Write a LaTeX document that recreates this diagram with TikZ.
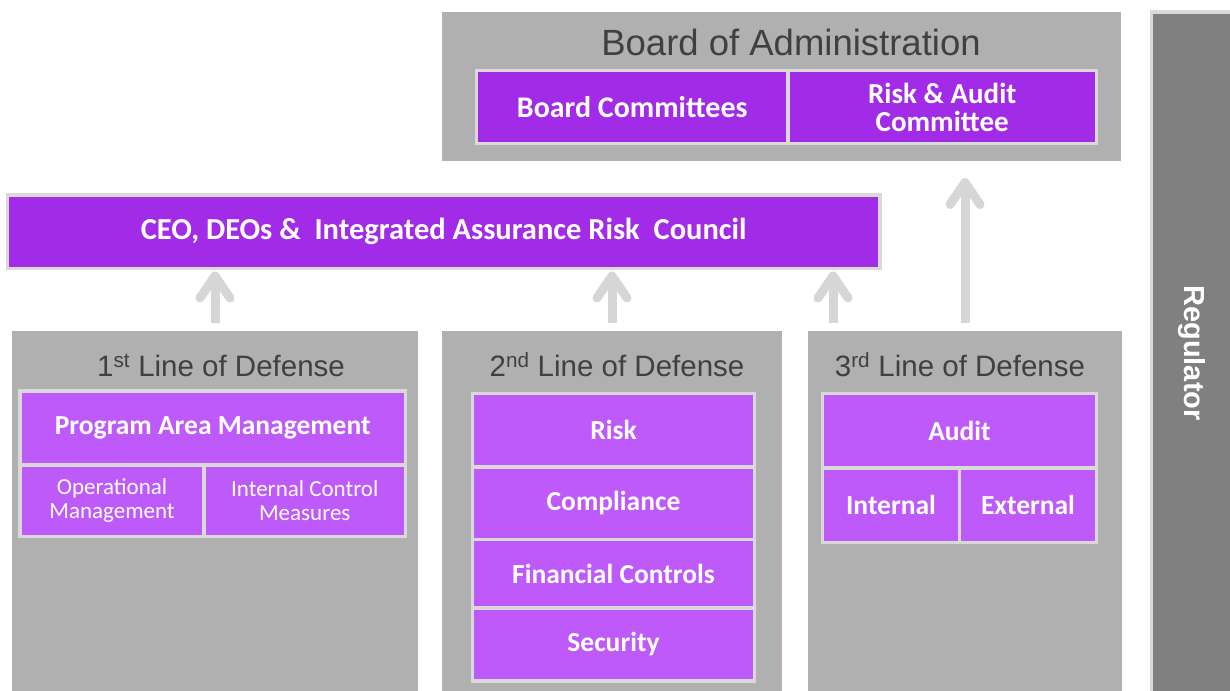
\documentclass[tikz,border=0pt]{standalone}
\usepackage{fontspec}
\setmainfont{Carlito}
\newfontfamily\headfont{Liberation Sans}
\usetikzlibrary{arrows.meta,positioning}
\definecolor{panelgray}{HTML}{B0B0B0}
\definecolor{reggray}{HTML}{808080}
\definecolor{edgegray}{HTML}{D9D9D9}
\definecolor{arrowgray}{HTML}{D6D6D6}
\definecolor{titlegray}{HTML}{404040}
\definecolor{toppurple}{HTML}{A12BE6}
\definecolor{cellpurple}{HTML}{BE59FA}
\begin{document}
\begin{tikzpicture}[x=1pt, y=-1pt,
	panel/.style={fill=panelgray, anchor=north west, inner sep=0pt, outer sep=0pt},
	cell/.style={fill=cellpurple, draw=edgegray, line width=3.5pt, anchor=north west,
		inner sep=0pt, outer sep=0pt, text=white, align=center,
		font=\bfseries\fontsize{27.5}{27.5}\selectfont},
	topcell/.style={cell, fill=toppurple, font=\bfseries\fontsize{30}{30}\selectfont},
	smallcell/.style={cell, font=\fontsize{23}{24}\selectfont},
	paneltitle/.style={text=titlegray, inner sep=0pt, font=\headfont\fontsize{29.5}{29.5}\selectfont},
	uparrow/.style={draw=arrowgray, line width=9pt, -{Straight Barb[round, length=22pt, width=30pt]}}
	]
	\useasboundingbox (0,0) rectangle (1230,690);
	
	% board and regulator
	\node[panel, minimum width=679pt, minimum height=149pt] (board) at (442,12) {};
	\node[paneltitle, font=\headfont\fontsize{36.5}{36.5}\selectfont] (boardtitle) at (791,42) {Board of Administration};
	\node[topcell, minimum width=311.5pt, minimum height=73pt] (bc) at (476.5,70.5) {Board Committees};
	\node[topcell, font=\bfseries\fontsize{29}{28}\selectfont, minimum width=308.5pt, minimum height=73pt] (rac) at (788,70.5) {Risk \& Audit\\Committee};
	\node[fill=reggray, draw=edgegray, line width=3.5pt, anchor=north west, outer sep=0pt,
		minimum width=90pt, minimum height=700pt] (reg) at (1151.5,12) {};
	\node[text=white, rotate=-90, font=\headfont\bfseries\fontsize{29}{29}\selectfont] (regtext) at (1192,353) {Regulator};
	
	% management
	\node[topcell, font=\bfseries\fontsize{30.5}{30.5}\selectfont, minimum width=872.5pt, minimum height=73.5pt] (ceo) at (7.5,195) {CEO, DEOs \&~ Integrated Assurance Risk~ Council};
	
	% lines of defense
	\node[panel, minimum width=406pt, minimum height=360pt] (l1) at (12,331) {};
	\node[panel, minimum width=340pt, minimum height=360pt] (l2) at (442,331) {};
	\node[panel, minimum width=314pt, minimum height=360pt] (l3) at (808,331) {};
	\node[paneltitle] (t1) at (221,365) {1\textsuperscript{st} Line of Defense};
	\node[paneltitle] (t2) at (617,365) {2\textsuperscript{nd} Line of Defense};
	\node[paneltitle] (t3) at (960,365) {3\textsuperscript{rd} Line of Defense};
	
	\node[cell, minimum width=385.5pt, minimum height=74pt] (pam) at (20,391) {Program Area Management};
	\node[smallcell, minimum width=184pt, minimum height=71.5pt] (om) at (20,465) {Operational\\Management};
	\node[smallcell, minimum width=201.5pt, minimum height=71.5pt] (icm) at (204,465) {Internal Control\\Measures};
	
	\node[cell, minimum width=282pt, minimum height=73.5pt] (risk) at (472.5,393.5) {Risk};
	\node[cell, minimum width=282pt, minimum height=72.5pt, below=0pt of risk] (comp) {Compliance};
	\node[cell, minimum width=282pt, minimum height=68.5pt, below=0pt of comp] (fin) {Financial Controls};
	\node[cell, minimum width=282pt, minimum height=73pt, below=0pt of fin] (sec) {Security};
	
	\node[cell, minimum width=274pt, minimum height=74.5pt] (audit) at (822.5,393.5) {Audit};
	\node[cell, minimum width=137pt, minimum height=74.5pt] (int) at (822.5,468) {Internal};
	\node[cell, minimum width=137pt, minimum height=74.5pt] (ext) at (959.5,468) {External};
	
	% reporting arrows
	\draw[uparrow] ([yshift=8pt]l1.north) -- ([yshift=-3pt]l1.north |- ceo.south);
	\draw[uparrow] ([yshift=8pt]l2.north) -- ([yshift=-3pt]l2.north |- ceo.south);
	\draw[uparrow] ([shift={(25pt,8pt)}]l3.north west) -- ([shift={(25pt,-3pt)}]l3.north west |- ceo.south);
	\draw[uparrow] ([yshift=8pt]l3.north) -- ([yshift=-17pt]l3.north |- board.south);
\end{tikzpicture}
\end{document}
